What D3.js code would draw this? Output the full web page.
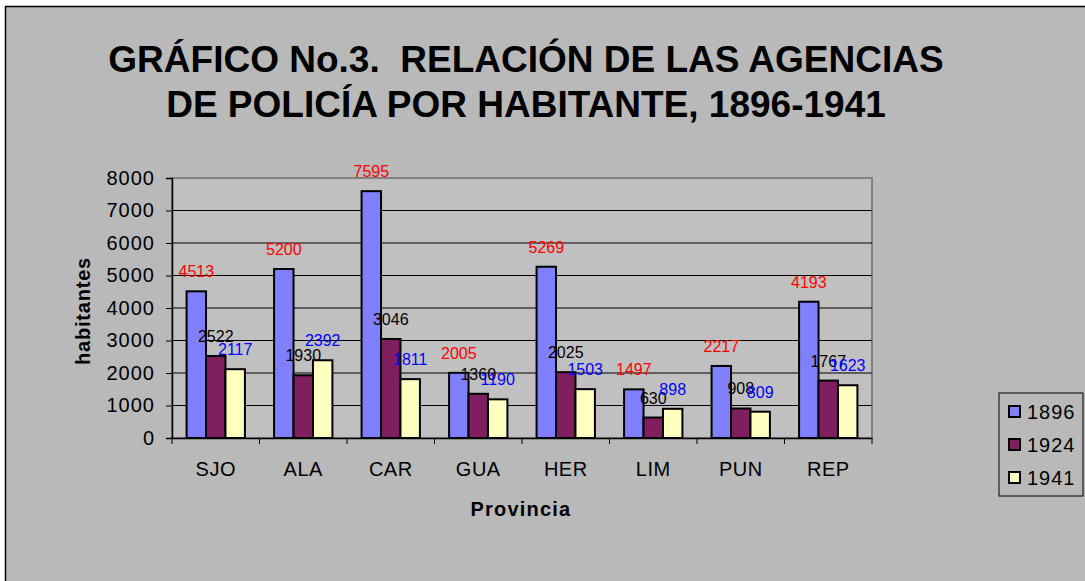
<!DOCTYPE html>
<html>
<head>
<meta charset="utf-8">
<script src="https://cdn.jsdelivr.net/npm/d3@7"></script>
<style>
  body { margin: 0; background: #ffffff; }
  svg { display: block; font-family: "Liberation Sans", Arial, sans-serif; }
</style>
</head>
<body>
<svg id="chart" width="1085" height="581"></svg>
<script>
let provincias = ['SJO', 'ALA', 'CAR', 'GUA', 'HER', 'LIM', 'PUN', 'REP']
let anios = ['1896', '1924', '1941']
let v1896 = [4513, 5200, 7595, 2005, 5269, 1497, 2217, 4193]
let v1924 = [2522, 1930, 3046, 1360, 2025, 630, 908, 1767]
let v1941 = [2117, 2392, 1811, 1190, 1503, 898, 809, 1623]
let yTicks = [0, 1000, 2000, 3000, 4000, 5000, 6000, 7000, 8000]

let series = [v1896, v1924, v1941]
let fills = ['#8080ff', '#7f1f5f', '#ffffc0']
let labelColors = ['#ff0000', '#000000', '#0000ff']

let svg = d3.select('#chart')

// fondo del gráfico
svg.append('rect')
    .attr('x', 5.5).attr('y', 6.5)
    .attr('width', 1100).attr('height', 600)
    .attr('fill', '#b9b9b9')
    .attr('stroke', '#000').attr('stroke-width', 1.5)

svg.append('text')
    .attr('x', 526).attr('y', 72)
    .attr('text-anchor', 'middle')
    .attr('font-size', 37).attr('font-weight', 'bold')
    .style('white-space', 'pre')
    .text('GRÁFICO No.3.  RELACIÓN DE LAS AGENCIAS')
svg.append('text')
    .attr('x', 526).attr('y', 117)
    .attr('text-anchor', 'middle')
    .attr('font-size', 37).attr('font-weight', 'bold')
    .text('DE POLICÍA POR HABITANTE, 1896-1941')

let pLeft = 172, pRight = 872, pTop = 178, pBottom = 438

let x0 = d3.scaleBand().domain(provincias).range([pLeft, pRight]).paddingInner(0).paddingOuter(0)
let x1 = d3.scaleBand().domain(anios).range([0, x0.bandwidth()]).paddingInner(0).paddingOuter(0.75)
let y = d3.scaleLinear().domain([0, 8000]).range([pBottom, pTop])

svg.append('rect')
    .attr('x', pLeft).attr('y', pTop)
    .attr('width', pRight - pLeft).attr('height', pBottom - pTop)
    .attr('fill', '#c0c0c0')
    .attr('stroke', '#808080').attr('stroke-width', 2)

svg.append('g')
    .selectAll('line')
    .data(yTicks.slice(1, -1))
    .join('line')
    .attr('x1', pLeft).attr('x2', pRight)
    .attr('y1', d => y(d)).attr('y2', d => y(d))
    .attr('stroke', '#000').attr('stroke-width', 1)

let yAxis = svg.append('g')
    .attr('transform', `translate(${pLeft},0)`)
    .call(d3.axisLeft(y).tickValues(yTicks).tickSize(6).tickPadding(11).tickFormat(d3.format('d')))
yAxis.select('.domain').attr('stroke', '#000').attr('stroke-width', 1.5)
yAxis.selectAll('.tick line').attr('stroke', '#000')
yAxis.selectAll('text').attr('font-size', 20).attr('fill', '#000')
    .attr('letter-spacing', 1)
    .attr('font-family', '"Liberation Sans", Arial, sans-serif')

let xAxis = svg.append('g')
    .attr('transform', `translate(0,${pBottom})`)
    .call(d3.axisBottom(x0).tickSize(0).tickPadding(24))
xAxis.select('.domain').attr('stroke', '#000').attr('stroke-width', 1.5)
xAxis.selectAll('text').attr('font-size', 20).attr('fill', '#000')
    .attr('letter-spacing', 0.5)
    .attr('font-family', '"Liberation Sans", Arial, sans-serif')
xAxis.selectAll('.sep')
    .data(d3.range(provincias.length + 1))
    .join('line')
    .attr('class', 'sep')
    .attr('x1', i => pLeft + i * x0.bandwidth()).attr('x2', i => pLeft + i * x0.bandwidth())
    .attr('y1', 0).attr('y2', 6)
    .attr('stroke', '#000')

let groups = svg.append('g')
    .selectAll('g')
    .data(provincias)
    .join('g')
    .attr('transform', d => `translate(${x0(d)},0)`)

groups.selectAll('rect')
    .data((d, i) => anios.map((a, j) => ({ anio: a, j: j, v: series[j][i] })))
    .join('rect')
    .attr('x', d => x1(d.anio))
    .attr('width', x1.bandwidth())
    .attr('y', d => y(d.v))
    .attr('height', d => pBottom - y(d.v))
    .attr('fill', d => fills[d.j])
    .attr('stroke', '#000').attr('stroke-width', 2)

groups.selectAll('text')
    .data((d, i) => anios.map((a, j) => ({ anio: a, j: j, v: series[j][i] })))
    .join('text')
    .attr('x', d => x1(d.anio) + x1.bandwidth() / 2)
    .attr('y', d => y(d.v) - 14)
    .attr('text-anchor', 'middle')
    .attr('font-size', 16)
    .attr('fill', d => labelColors[d.j])
    .text(d => d.v)

svg.append('text')
    .attr('x', 521).attr('y', 516)
    .attr('text-anchor', 'middle')
    .attr('font-size', 20).attr('font-weight', 'bold')
    .attr('letter-spacing', 1.2)
    .text('Provincia')

svg.append('text')
    .attr('transform', 'translate(90,311)rotate(-90)')
    .attr('text-anchor', 'middle')
    .attr('font-size', 20).attr('font-weight', 'bold')
    .attr('letter-spacing', 0.8)
    .text('habitantes')

// leyenda
let legend = svg.append('g').attr('transform', 'translate(999,393)')
legend.append('rect')
    .attr('width', 84).attr('height', 103)
    .attr('fill', '#b9b9b9')
    .attr('stroke', '#000').attr('stroke-width', 1)
let items = legend.selectAll('g')
    .data(anios)
    .join('g')
    .attr('transform', (d, i) => `translate(0,${19 + i * 33})`)
items.append('rect')
    .attr('x', 10).attr('y', -6)
    .attr('width', 11).attr('height', 11)
    .attr('fill', (d, i) => fills[i])
    .attr('stroke', '#000').attr('stroke-width', 2)
items.append('text')
    .attr('x', 28).attr('y', 7)
    .attr('font-size', 20)
    .attr('letter-spacing', 1)
    .text(d => d)
</script>
</body>
</html>
